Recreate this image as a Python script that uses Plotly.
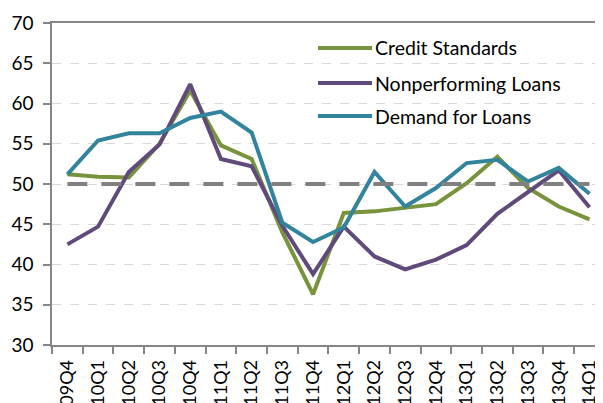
import plotly.graph_objects as go

quarters = ["2009Q4", "2010Q1", "2010Q2", "2010Q3", "2010Q4", "2011Q1", "2011Q2",
            "2011Q3", "2011Q4", "2012Q1", "2012Q2", "2012Q3", "2012Q4", "2013Q1",
            "2013Q2", "2013Q3", "2013Q4", "2014Q1"]
credit_standards = [51.2, 50.9, 50.8, 55.0, 61.6, 54.8, 53.1, 44.0, 36.3, 46.4,
                    46.6, 47.0, 47.5, 50.1, 53.4, 49.5, 47.2, 45.6]
nonperforming_loans = [42.5, 44.7, 51.5, 54.9, 62.4, 53.1, 52.2, 44.8, 38.8, 44.7,
                       41.0, 39.4, 40.6, 42.4, 46.3, 49.0, 51.7, 47.1]
demand_for_loans = [51.2, 55.4, 56.3, 56.3, 58.2, 59.0, 56.4, 45.2, 42.8, 44.6,
                    51.5, 47.2, 49.5, 52.6, 53.0, 50.3, 52.0, 48.8]
neutral_level = 50
series_names = ["Credit Standards", "Nonperforming Loans", "Demand for Loans"]
series_colors = ["#77933C", "#604A7B", "#31849B"]
y_ticks = [30, 35, 40, 45, 50, 55, 60, 65, 70]

FONT = "Lato"
OFF = 8  # page body margin
W, H = 595, 395
ML, MR, MT, MB = 44, 0, 15, 58

fig = go.Figure()
for name, vals, col in zip(series_names,
                           [credit_standards, nonperforming_loans, demand_for_loans],
                           series_colors):
    fig.add_trace(go.Scatter(x=quarters, y=vals, mode="lines", name=name,
                             line=dict(color=col, width=4), showlegend=False))

fig.add_trace(go.Scatter(x=[quarters[0], quarters[-1]], y=[neutral_level, neutral_level],
                         mode="lines", showlegend=False,
                         line=dict(color="#808080", width=4, dash="20px,14px")))

# manual legend (positions given in screen pixels)
pw = W - ML - MR
ph = H - MT - MB
def px_to_paper(px, py):
    fx, fy = px - OFF, py - OFF
    return (fx - ML) / pw, (H - MB - fy) / ph

legend_y = [48, 83, 116]
shapes = []
annotations = []
for name, col, ly in zip(series_names, series_colors, legend_y):
    x0, y0 = px_to_paper(318, ly)
    x1, _ = px_to_paper(372, ly)
    shapes.append(dict(type="line", xref="paper", yref="paper", x0=x0, x1=x1,
                       y0=y0, y1=y0, line=dict(color=col, width=4)))
    tx, ty = px_to_paper(373, ly)
    annotations.append(dict(xref="paper", yref="paper", x=tx, y=ty, text=name,
                            showarrow=False, xanchor="left", yanchor="middle",
                            font=dict(family=FONT, size=19.5, color="#000000")))

fig.update_layout(
    width=W, height=H,
    margin=dict(l=ML, r=MR, t=MT, b=MB, autoexpand=False),
    paper_bgcolor="white", plot_bgcolor="white",
    font=dict(family=FONT, size=18, color="#000000"),
    shapes=shapes, annotations=annotations,
    xaxis=dict(type="category", range=[-0.5, 17.44], tickangle=-90,
               showline=True, linecolor="#868686", linewidth=1.5, mirror=True,
               ticks="outside", ticklen=7, tickcolor="#868686", tickwidth=1.5,
               tickson="boundaries", showgrid=False, automargin=False,
               tickfont=dict(size=18), ticklabelstandoff=6),
    yaxis=dict(range=[30, 70], tickvals=y_ticks, showline=True,
               linecolor="#868686", linewidth=1.5, ticks="outside", ticklen=7,
               tickcolor="#868686", tickwidth=1.5, showgrid=True,
               gridcolor="#D9D9D9", griddash="dash", gridwidth=1,
               zeroline=False, automargin=False, tickfont=dict(size=19),
               ticklabelstandoff=6),
)

fig.write_html("out.html")
